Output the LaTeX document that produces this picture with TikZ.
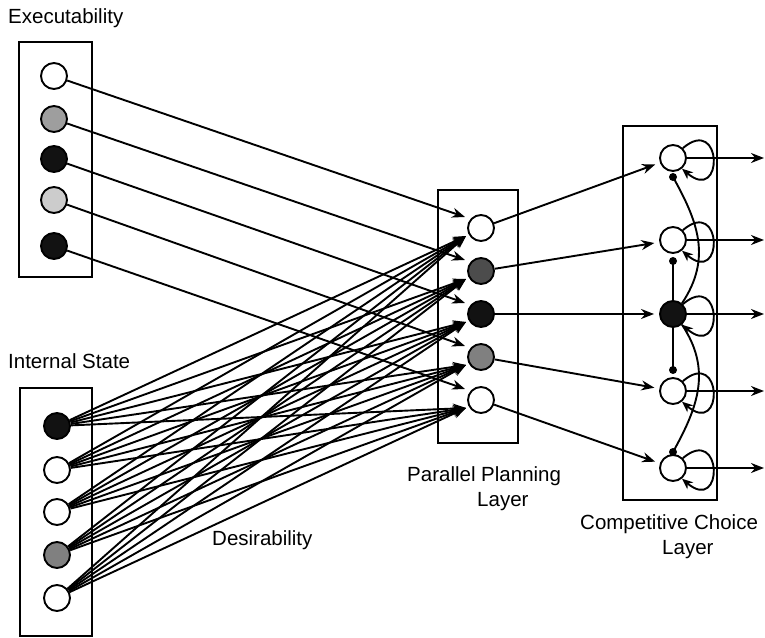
\documentclass[tikz,border=0pt]{standalone}
\usepackage{fontspec}
\setmainfont{Liberation Sans}
\usetikzlibrary{arrows.meta,calc}
\definecolor{gA}{gray}{0.62}
\definecolor{gB}{gray}{0.80}
\definecolor{gC}{gray}{0.30}
\definecolor{gD}{gray}{0.50}
\definecolor{blk}{gray}{0.07}
\begin{document}
\begin{tikzpicture}[x=1pt,y=1pt,
  lw/.style={line width=1.9pt},
  box/.style={draw, line width=1.9pt, rectangle, inner sep=0pt},
  unit/.style={circle, draw, line width=1.9pt, minimum size=26pt, inner sep=0pt, fill=white},
  arr/.style={line width=1.9pt, -{Stealth[length=13pt,width=10pt]}},
  larr/.style={line width=1.9pt, -{Stealth[length=11pt,width=9pt]}},
  lbl/.style={inner sep=0pt, anchor=base west, font=\fontsize{20.5}{24}\selectfont}
]
\useasboundingbox (0,0) rectangle (765,637);

% boxes
\node[box, minimum width=73pt, minimum height=235pt] (exbox) at (55.5,477.5) {};
\node[box, minimum width=72pt, minimum height=248pt] (inbox) at (56,125) {};
\node[box, minimum width=80pt, minimum height=253pt] (plbox) at (478,320.5) {};
\node[box, minimum width=94pt, minimum height=374pt] (chbox) at (670,324) {};

% executability units
\node[unit] (e1) at (54,561) {};
\node[unit, fill=gA] (e2) at (54,518) {};
\node[unit, fill=blk] (e3) at (54,478) {};
\node[unit, fill=gB] (e4) at (54,437) {};
\node[unit, fill=blk] (e5) at (54,391) {};

% internal state units
\node[unit, fill=blk] (s1) at (57,211) {};
\node[unit] (s2) at (57,167) {};
\node[unit] (s3) at (57,125) {};
\node[unit, fill=gD] (s4) at (57,82) {};
\node[unit] (s5) at (57,39) {};

% planning units
\node[unit] (p1) at (481,409) {};
\node[unit, fill=gC] (p2) at (481,366) {};
\node[unit, fill=blk] (p3) at (481,323) {};
\node[unit, fill=gD] (p4) at (481,280) {};
\node[unit] (p5) at (481,237) {};

% choice units
\node[unit] (c1) at (673,479) {};
\node[unit] (c2) at (673,397) {};
\node[unit, fill=blk] (c3) at (673,323) {};
\node[unit] (c4) at (673,246) {};
\node[unit] (c5) at (673,169) {};

% arrow end coordinates
\foreach \i in {1,...,5}{
  \coordinate (pe\i) at ($(p\i)+(-16,11)$);
  \coordinate (pi\i) at ($(p\i)+(-15,-8)$);
  \path (c\i) ++(91,0) coordinate (o\i);
}

% executability -> planning
\foreach \i in {1,...,5}{
  \draw[arr] (e\i) -- (pe\i);
}
% internal state -> planning (desirability)
\foreach \i in {1,...,5}{
  \foreach \j in {1,...,5}{
    \draw[arr] (s\i) -- (pi\j);
  }
}
% planning -> choice
\foreach \i in {1,...,5}{
  \draw[arr, shorten >=5pt] (p\i) -- (c\i);
}
% outputs and self loops
\foreach \i in {1,...,5}{
  \draw[arr] (c\i.east) -- (o\i);
  \draw[larr] (c\i.45) .. controls +(40,34) and +(42,-36) .. (c\i.-50);
}

% inhibitory connections
\coordinate (d1) at (673,460);
\coordinate (d2) at (673,376);
\coordinate (d4) at (673,267);
\coordinate (d5) at (673,185);
\draw[lw] (c3.north) -- (d2);
\draw[lw] (c3.south) -- (d4);
\draw[lw] (c3.50) .. controls +(30,45) and +(25,-45) .. (d1);
\draw[lw] (c3.-50) .. controls +(30,-45) and +(25,45) .. (d5);
\foreach \d in {d1,d2,d4,d5}{
  \fill (\d) circle (4);
}

% labels
\node[lbl] (lexe) at (8,613.7) {Executability};
\node[lbl] (lint) at (8,268.7) {Internal State};
\node[lbl] (ldes) at (212,92) {Desirability};
\node[lbl] (lpp1) at (407,155.3) {Parallel Planning};
\node[lbl] (lpp2) at (477,130.3) {Layer};
\node[lbl] (lcc1) at (580,107.7) {Competitive Choice};
\node[lbl] (lcc2) at (662,82.7) {Layer};
\end{tikzpicture}
\end{document}
